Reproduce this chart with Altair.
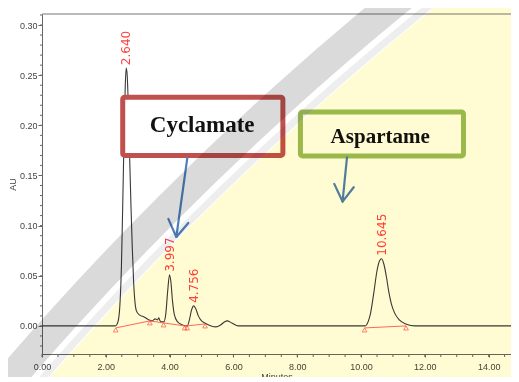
import altair as alt
import pandas as pd

# ---------------- data ----------------
trace_time = [0.00, 1.00, 2.00, 2.30, 2.38, 2.44, 2.49, 2.53, 2.57, 2.61, 2.64, 2.67, 2.71,
              2.75, 2.79, 2.83, 2.87, 2.91, 2.96, 3.05, 3.20, 3.35, 3.45, 3.55, 3.62, 3.66,
              3.70, 3.76, 3.82, 3.88, 3.94, 3.997, 4.04, 4.09, 4.15, 4.25, 4.40, 4.55, 4.62,
              4.68, 4.756, 4.82, 4.90, 5.00, 5.10, 5.30, 5.45, 5.60, 5.72, 5.80, 5.95, 6.15,
              8.00, 10.00, 10.13, 10.22, 10.30, 10.40, 10.50, 10.58, 10.645, 10.72, 10.80,
              10.87, 10.95, 11.05, 11.20, 11.40, 11.70, 14.70]
trace_au = [0.000, 0.000, 0.000, 0.000, 0.004, 0.020, 0.060, 0.120, 0.185, 0.240, 0.257, 0.250, 0.215,
            0.165, 0.118, 0.078, 0.045, 0.025, 0.015, 0.011, 0.009, 0.006, 0.005, 0.007, 0.006, 0.008,
            0.005, 0.004, 0.004, 0.012, 0.035, 0.051, 0.044, 0.025, 0.011, 0.004, 0.001, 0.000, 0.006,
            0.015, 0.020, 0.017, 0.010, 0.005, 0.003, 0.000, -0.001, 0.001, 0.004, 0.005, 0.003, 0.000,
            0.000, 0.000, 0.000, 0.004, 0.013, 0.033, 0.055, 0.065, 0.067, 0.061, 0.048,
            0.034, 0.022, 0.013, 0.006, 0.002, 0.000, 0.000]

peak_time = [2.640, 3.997, 4.756, 10.645]
peak_au = [0.257, 0.051, 0.020, 0.067]
peak_label = ["2.640", "3.997", "4.756", "10.645"]

base_time = [2.31, 3.38, 3.81, 4.47, 4.55, 5.11, 10.11, 11.41]
base_au = [-0.002, 0.005, 0.003, 0.000, 0.000, 0.002, -0.002, 0.000]
base_group = ["a", "a", "a", "a", "a", "a", "b", "b"]

box_label = ["Cyclamate", "Aspartame"]
box_x1 = [2.53, 8.10]
box_x2 = [7.55, 13.21]
box_y1 = [0.170, 0.1695]
box_y2 = [0.228, 0.2134]
box_text_x = [5.02, 10.60]
box_text_y = [0.2004, 0.1884]
box_color = ["#C0504D", "#9BBB59"]

arrow_id = ["c_shaft", "c_shaft", "c_head", "c_head", "c_head",
            "a_shaft", "a_shaft", "a_head", "a_head", "a_head"]
arrow_time = [4.555, 4.21, 3.96, 4.21, 4.586,
              9.56, 9.42, 9.16, 9.42, 9.77]
arrow_au = [0.1675, 0.0887, 0.1067, 0.0887, 0.1027,
            0.1682, 0.124, 0.1416, 0.124, 0.1383]
arrow_order = [0, 1, 0, 1, 2, 0, 1, 0, 1, 2]

x_major = [0, 2, 4, 6, 8, 10, 12, 14]
y_major = [0.00, 0.05, 0.10, 0.15, 0.20, 0.25, 0.30]

# ---------------- tables ----------------
trace_df = pd.DataFrame({"t": trace_time, "au": trace_au})
peak_df = pd.DataFrame({"t": peak_time, "au": peak_au, "lab": peak_label})
base_df = pd.DataFrame({"t": base_time, "au": base_au, "g": base_group})
box_df = pd.DataFrame({"lab": box_label, "t": box_x1, "t2": box_x2, "au": box_y1,
                       "au2": box_y2, "tt": box_text_x, "ta": box_text_y, "col": box_color})
arrow_df = pd.DataFrame({"id": arrow_id, "t": arrow_time, "au": arrow_au, "o": arrow_order})
xminor_df = pd.DataFrame({"t": [i * 0.5 for i in range(30)]})
yminor_df = pd.DataFrame({"au": [round(-0.02 + i * 0.01, 2) for i in range(34)]})
one = pd.DataFrame({"a": [0]})

W, H = 469, 340
xs = alt.Scale(domain=[0, 14.7], nice=False, zero=False)
ys = alt.Scale(domain=[-0.028, 0.311], nice=False, zero=False)

x_axis = alt.Axis(values=x_major, format=".2f", title="Minutes", labelOverlap=False,
                  labelFlush=False, tickSize=3, labelPadding=5, titlePadding=1)
y_axis = alt.Axis(values=y_major, format=".2f", title="AU", labelOverlap=False,
                  labelFlush=False, tickSize=4, labelPadding=1, titlePadding=2)


def X(field):
    return alt.X(field, scale=xs, axis=x_axis)


def Y(field):
    return alt.Y(field, scale=ys, axis=y_axis)


trace = alt.Chart(trace_df).mark_line(color="#3a3a3a", strokeWidth=1.1,
                                      interpolate="monotone").encode(x=X("t:Q"), y=Y("au:Q"))

base_line = alt.Chart(base_df).mark_line(color="#FF6A6A", strokeWidth=1).encode(
    x=X("t:Q"), y=Y("au:Q"), detail="g:N")
base_pts = alt.Chart(base_df).mark_point(shape="triangle-up", size=22, color="#FF4A4A",
                                         filled=False, strokeWidth=1, yOffset=2).encode(
    x=X("t:Q"), y=Y("au:Q"))

labels = alt.Chart(peak_df).mark_text(angle=270, align="left", baseline="middle", dx=3,
                                      font="DejaVu Sans", fontSize=12, color="#FF4040").encode(
    x=X("t:Q"), y=Y("au:Q"), text="lab:N")

boxes = alt.Chart(box_df).mark_rect(fill="white", strokeWidth=5, cornerRadius=2).encode(
    x=X("t:Q"), x2="t2", y=Y("au:Q"), y2="au2", stroke=alt.Stroke("col:N", scale=None))

box_text = alt.Chart(box_df).mark_text(font="Liberation Serif", fontWeight="bold",
                                       color="#111111", baseline="middle").encode(
    x=X("tt:Q"), y=Y("ta:Q"), text="lab:N",
    size=alt.Size("lab:N", scale=alt.Scale(domain=box_label, range=[23, 21]), legend=None))

arrows = alt.Chart(arrow_df).mark_line(color="#4F7FBA", strokeWidth=2.2, strokeCap="round",
                                       strokeJoin="round").encode(
    x=X("t:Q"), y=Y("au:Q"), detail="id:N", order="o:Q")

# minor ticks
xminor = alt.Chart(xminor_df).mark_rule(color="#666666", strokeWidth=1).encode(
    x=X("t:Q"), y=alt.value(H), y2=alt.value(H + 3))
yminor = alt.Chart(yminor_df).mark_rule(color="#666666", strokeWidth=1).encode(
    y=Y("au:Q"), x=alt.value(-2), x2=alt.value(0))

top_rule = alt.Chart(one).mark_rule(color="#777777", strokeWidth=1).encode(
    x=alt.value(0), x2=alt.value(W), y=alt.value(0))

# watermark overlay (multiplied over everything)
CX, CY = 2309, 2374
wm_yellow = alt.Chart(one).mark_arc(radius=3056, theta=0, theta2=6.2832, fill="#FFFBD3",
                                    blend="multiply").encode(x=alt.value(CX), y=alt.value(CY))
wm_stripe = alt.Chart(one).mark_arc(radius=3064, radius2=3057, theta=0, theta2=6.2832,
                                    fill="#EEEEEE", blend="multiply").encode(
    x=alt.value(CX), y=alt.value(CY))
wm_ring = alt.Chart(one).mark_arc(radius=3100, radius2=3070, theta=0, theta2=6.2832,
                                  fill="#DADADA", blend="multiply").encode(
    x=alt.value(CX), y=alt.value(CY))

chart = alt.layer(trace, base_line, base_pts, labels, boxes, box_text, arrows, xminor, yminor,
                  top_rule, wm_yellow, wm_stripe, wm_ring).properties(
    width=W, height=H,
    autosize=alt.AutoSizeParams(type="none"),
    padding={"left": 34, "top": 6, "right": 0, "bottom": 23},
).configure_view(stroke=None).configure_axis(
    labelFont="Liberation Sans", labelFontSize=9, labelColor="#444444",
    titleFont="Liberation Sans", titleFontSize=9, titleFontWeight="normal", titleColor="#444444",
    domainColor="#666666", tickColor="#666666", grid=False,
)

chart.save("out.html", embed_options={"renderer": "svg", "actions": False})
